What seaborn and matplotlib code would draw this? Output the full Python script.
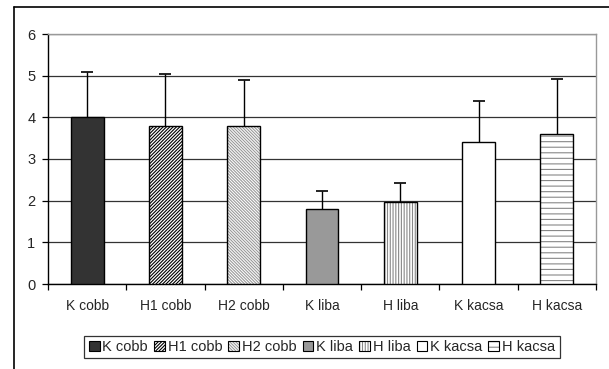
import matplotlib
matplotlib.use("Agg")
import numpy as np
import pandas as pd
import seaborn as sns
from matplotlib import pyplot as plt
from matplotlib import colors as mcolors
from matplotlib.patches import Patch
from matplotlib.lines import Line2D

categories = ["K cobb", "H1 cobb", "H2 cobb", "K liba", "H liba", "K kacsa", "H kacsa"]
means = [4.0, 3.8, 3.8, 1.8, 1.97, 3.4, 3.59]
errors = [1.1, 1.23, 1.1, 0.44, 0.46, 1.0, 1.33]

fills = ["#333333", "white", "white", "#999999", "white", "white", "white"]
hatches = [None, "/" * 10, "\\" * 11, None, "|" * 6, None, "-" * 3]
hatch_colors = ["black", "black", "#9a9a9a", "black", "#888888", "black", "#888888"]

sns.set_style("white")
plt.rcParams["font.family"] = ["Liberation Sans", "DejaVu Sans"]
plt.rcParams["hatch.linewidth"] = 0.8

df = pd.DataFrame({"cat": categories, "val": means})

fig = plt.figure(figsize=(6.09, 3.69), dpi=100)
ax = fig.add_axes([48 / 609, 1 - 284 / 369, 548 / 609, 250 / 369])

sns.barplot(data=df, x="cat", y="val", hue="cat", palette=fills, legend=False,
            width=0.42, edgecolor="black", linewidth=1.0, ax=ax, zorder=3)

for bar, h, hc in zip(ax.patches, hatches, hatch_colors):
    if h:
        bar.set_hatch(h)
        bar._hatch_color = mcolors.to_rgba(hc)

eb = ax.errorbar(np.arange(len(categories)), means, yerr=[np.zeros(len(errors)), errors],
                 fmt="none", ecolor="black", elinewidth=1.0, capsize=4, capthick=1.2, zorder=4)
# only the upper cap is wanted
eb[1][0].remove()

ax.set_ylim(0, 6)
ax.set_xlim(-0.5, len(categories) - 0.5)
ax.set_yticks(range(7))
ax.yaxis.grid(True, color="#333333", linewidth=0.9, zorder=0)
ax.set_axisbelow(True)
ax.set_xlabel("")
ax.set_ylabel("")

# category boundary ticks on the x axis, labels in between
ax.set_xticks(np.arange(len(categories)))
ax.set_xticklabels(categories, fontsize=10)
ax.tick_params(axis="x", length=0, pad=11)
ax.set_xticks(np.arange(len(categories) + 1) - 0.5, minor=True)
ax.tick_params(axis="x", which="minor", length=4, width=0.9, color="black", direction="out", bottom=True)
ax.tick_params(axis="y", length=4, width=0.9, color="black", direction="out", left=True, labelsize=10.5, pad=5)

for side in ["left", "bottom"]:
    ax.spines[side].set_color("black")
    ax.spines[side].set_linewidth(1.0)
for side in ["top", "right"]:
    ax.spines[side].set_color("#999999")
    ax.spines[side].set_linewidth(1.0)

# outer frame (left and top edges visible)
fig.add_artist(Line2D([14 / 609, 14 / 609], [0, 1 - 7 / 369], transform=fig.transFigure, color="black", lw=1.2))
fig.add_artist(Line2D([14 / 609, 1], [1 - 7 / 369, 1 - 7 / 369], transform=fig.transFigure, color="black", lw=1.2))

handles = []
for f, h, hc in zip(fills, hatches, hatch_colors):
    p = Patch(facecolor=f, edgecolor="black", hatch=h, linewidth=0.8)
    p._hatch_color = mcolors.to_rgba(hc)
    handles.append(p)
leg = fig.legend(handles, categories, loc="center", bbox_to_anchor=(322 / 609, 1 - 347 / 369), ncol=7,
                 fontsize=10.5, frameon=True, fancybox=False, edgecolor="black",
                 handlelength=0.75, handleheight=0.75, handletextpad=0.2, columnspacing=0.4,
                 borderpad=0.3, borderaxespad=0)
leg.get_frame().set_linewidth(0.9)

fig.savefig("out.png", dpi=100)
